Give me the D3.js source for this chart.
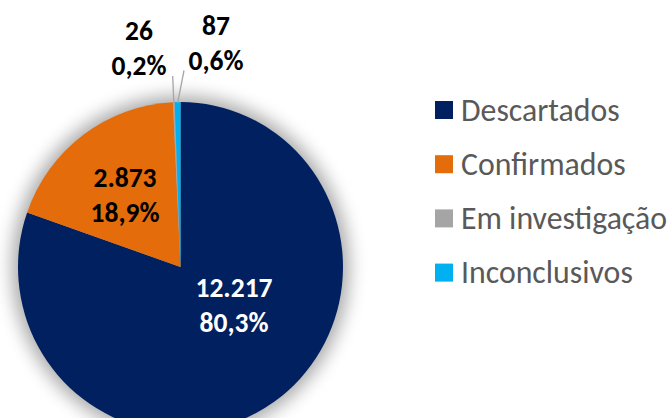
<!DOCTYPE html>
<html>
<head>
<meta charset="utf-8">
<script src="https://cdn.jsdelivr.net/npm/d3@7/dist/d3.min.js"></script>
<style>
  html, body { margin: 0; padding: 0; background: #fff; }
  svg { display: block; }
  text { font-family: Carlito, Calibri, Lato, sans-serif; }
</style>
</head>
<body>
<svg id="chart" width="670" height="418"></svg>
<script>
var categories = ["Descartados", "Confirmados", "Em investigação", "Inconclusivos"]
var values = [12217, 2873, 26, 87]
var valueLabels = ["12.217", "2.873", "26", "87"]
var pctLabels = ["80,3%", "18,9%", "0,2%", "0,6%"]
var colors = ["#002060", "#E46C0A", "#A5A5A5", "#00B0F0"]

// label layout: centre x, first baseline y, leader line end (if any)
var labelLayout = [
  { x: 234, y: 297, fill: "#fff", leader: null },
  { x: 125, y: 187, fill: "#000", leader: null },
  { x: 139, y: 40, fill: "#000", leader: [172.7, 76] },
  { x: 216, y: 35, fill: "#000", leader: [184, 70.5] }
]

var svg = d3.select("#chart")
var cx = 180.5, cy = 267, R = 162.5, sy = 165 / 162.5

var defs = svg.append("defs")
var f = defs.append("filter").attr("id", "glow")
  .attr("x", "-30%").attr("y", "-30%").attr("width", "160%").attr("height", "160%")
f.append("feGaussianBlur").attr("stdDeviation", 9)

var g = svg.append("g").attr("transform", `translate(${cx},${cy}) scale(1,${sy})`)

// soft shadow behind the pie
g.append("circle")
  .attr("r", R + 6)
  .attr("fill", "#000")
  .attr("opacity", 0.34)
  .attr("filter", "url(#glow)")

var pie = d3.pie().sort(null).value(d => d)
var arcs = pie(values)
var arc = d3.arc().innerRadius(0).outerRadius(R)

g.selectAll("path.slice")
  .data(arcs)
  .enter()
  .append("path")
  .attr("class", "slice")
  .attr("d", arc)
  .attr("fill", (d, i) => colors[i])

// leader lines for the tiny slices
arcs.forEach(function(d, i) {
  var lay = labelLayout[i]
  if (!lay.leader) return
  var mid = (d.startAngle + d.endAngle) / 2
  var x1 = cx + Math.sin(mid) * (R - 1)
  var y1 = cy - Math.cos(mid) * (R - 1) * sy
  svg.append("line")
    .attr("x1", x1).attr("y1", y1)
    .attr("x2", lay.leader[0]).attr("y2", lay.leader[1])
    .attr("stroke", "#A6A6A6")
    .attr("stroke-width", 1.3)
})

arcs.forEach(function(d, i) {
  var lay = labelLayout[i]
  var t = svg.append("text")
    .attr("text-anchor", "middle")
    .attr("font-weight", "bold")
    .attr("font-size", 27.5)
    .attr("fill", lay.fill)
  t.append("tspan").attr("x", lay.x).attr("y", lay.y).text(valueLabels[i])
  t.append("tspan").attr("x", lay.x).attr("y", lay.y + 35).text(pctLabels[i])
})

// legend
var legend = svg.append("g").attr("transform", "translate(435,101)")
var item = legend.selectAll("g")
  .data(categories)
  .enter()
  .append("g")
  .attr("transform", (d, i) => `translate(0,${i * 54.2})`)

item.append("rect")
  .attr("width", 18).attr("height", 18)
  .attr("fill", (d, i) => colors[i])

item.append("text")
  .attr("x", 26)
  .attr("y", 19.5)
  .attr("font-size", 31.8)
  .attr("fill", "#595959")
  .text(d => d)
</script>
</body>
</html>
